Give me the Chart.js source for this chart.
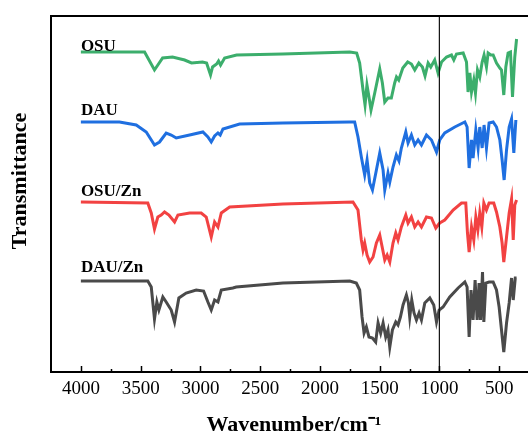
<!DOCTYPE html>
<html>
<head>
<meta charset="utf-8">
<script src="https://cdn.jsdelivr.net/npm/chart.js@4"></script>
<style>
  html, body { margin: 0; padding: 0; background: #fff; overflow: hidden; }
</style>
</head>
<body>
<canvas id="chart" width="530" height="433"></canvas>
<script>
// wavenumbers (cm-1) and offset transmittance (a.u.) for each spectrum
const osuWn = [4000, 3467, 3384, 3316, 3233, 3132, 3074, 2982, 2948, 2915, 2898, 2864, 2848, 2831, 2797, 2697, 2312, 1750, 1692, 1667, 1639, 1622, 1606, 1589, 1572, 1541, 1499, 1477, 1457, 1430, 1402, 1374, 1359, 1340, 1306, 1265, 1234, 1206, 1172, 1142, 1120, 1094, 1072, 1039, 1011, 982, 940, 899, 879, 857, 801, 773, 760, 745, 731, 712, 698, 681, 662, 642, 626, 606, 592, 570, 550, 522, 494, 480, 461, 444, 425, 405, 388, 369, 354];
const osuT = [320, 320, 302, 314, 315, 312, 309, 310, 309, 297, 305, 308, 311, 307, 314, 317, 318, 320, 319, 309, 282, 267, 287, 275, 262, 279, 303, 289, 270, 274, 274, 289, 295, 292, 304, 310, 308, 302, 309, 305, 296, 309, 305, 312, 299, 310, 315, 317, 312, 318, 319, 310, 280, 299, 280, 292, 279, 302, 295, 310, 317, 305, 319, 317, 317, 309, 304, 302, 277, 305, 319, 320, 275, 315, 333];

const dauWn = [4000, 3677, 3537, 3453, 3384, 3342, 3286, 3244, 3202, 3090, 2979, 2937, 2909, 2881, 2853, 2834, 2811, 2672, 2309, 1750, 1709, 1681, 1653, 1625, 1605, 1583, 1560, 1527, 1499, 1471, 1457, 1430, 1415, 1388, 1360, 1338, 1318, 1281, 1262, 1234, 1206, 1178, 1150, 1108, 1066, 1024, 997, 955, 871, 787, 768, 751, 731, 718, 695, 676, 662, 642, 626, 606, 584, 550, 522, 494, 475, 458, 438, 416, 396, 377, 360];
const dauT = [250, 250, 247, 240, 227, 230, 239, 237, 234, 237, 240, 235, 230, 236, 239, 237, 243, 248, 249, 250, 250, 235, 215, 197, 212, 189, 182, 202, 219, 202, 182, 199, 190, 205, 217, 211, 224, 240, 229, 237, 227, 232, 227, 237, 232, 220, 232, 239, 245, 250, 245, 204, 232, 214, 242, 224, 245, 224, 247, 224, 249, 250, 245, 232, 212, 192, 222, 245, 253, 219, 252];

const osuZnWn = [4000, 3440, 3411, 3384, 3356, 3328, 3300, 3263, 3216, 3188, 3090, 2993, 2951, 2909, 2881, 2853, 2825, 2755, 2309, 1723, 1681, 1653, 1639, 1625, 1605, 1583, 1555, 1527, 1499, 1477, 1457, 1437, 1415, 1388, 1365, 1346, 1318, 1281, 1262, 1234, 1206, 1178, 1150, 1108, 1066, 1030, 997, 955, 885, 815, 779, 765, 751, 731, 712, 695, 678, 662, 645, 628, 606, 584, 545, 522, 494, 475, 461, 438, 416, 396, 382, 369, 354];
const osuZnT = [170, 169, 159, 143, 155, 157, 160, 157, 150, 157, 159, 159, 155, 135, 150, 145, 159, 165, 168, 170, 162, 132, 122, 129, 117, 110, 115, 129, 137, 124, 112, 117, 110, 129, 139, 132, 145, 157, 149, 155, 145, 150, 145, 155, 154, 144, 149, 152, 162, 169, 169, 139, 120, 145, 132, 155, 142, 159, 145, 169, 162, 169, 169, 160, 145, 129, 110, 135, 159, 173, 132, 167, 172];

const dauZnWn = [4000, 3440, 3411, 3384, 3364, 3347, 3314, 3286, 3244, 3216, 3180, 3119, 3035, 2973, 2937, 2909, 2881, 2853, 2825, 2728, 2700, 2309, 1750, 1695, 1667, 1647, 1630, 1611, 1589, 1560, 1533, 1513, 1491, 1471, 1449, 1430, 1415, 1393, 1365, 1346, 1326, 1304, 1276, 1259, 1248, 1231, 1212, 1192, 1170, 1150, 1122, 1080, 1047, 1024, 1002, 969, 913, 843, 787, 768, 751, 735, 718, 701, 684, 668, 656, 639, 628, 611, 584, 550, 522, 500, 480, 461, 438, 416, 396, 382, 365, 354];
const dauZnT = [91, 91, 85, 53, 70, 62, 75, 70, 62, 50, 74, 79, 82, 81, 70, 62, 72, 70, 82, 84, 85, 89, 91, 89, 82, 55, 39, 45, 35, 34, 30, 49, 39, 49, 35, 42, 25, 42, 50, 47, 55, 67, 77, 69, 55, 72, 59, 52, 59, 52, 69, 74, 67, 50, 62, 65, 75, 84, 90, 85, 35, 82, 52, 92, 52, 89, 52, 100, 50, 89, 90, 90, 82, 65, 42, 20, 49, 69, 94, 72, 94, 94];

const seriesNames = ['OSU', 'DAU', 'OSU/Zn', 'DAU/Zn'];
const seriesColors = ['#3cae6c', '#1f6fe0', '#f24242', '#4a4a4a'];
const nameLevels = [321, 257, 176, 100];   // label baselines (a.u.)
const tickValues = [4000, 3500, 3000, 2500, 2000, 1500, 1000, 500];
const minorTicks = [3750, 3250, 2750, 2250, 1750, 1250, 750];
const markerWn = 1000;

const allWn = [osuWn, dauWn, osuZnWn, dauZnWn];
const allT = [osuT, dauT, osuZnT, dauZnT];

const frame = {
    id: 'frame',
    afterDatasetsDraw(chart) {
        const c = chart.ctx;
        const a = chart.chartArea;
        const x = chart.scales.x;
        const y = chart.scales.y;
        c.save();
        // marker line
        c.strokeStyle = '#111';
        c.lineWidth = 1.2;
        c.beginPath();
        c.moveTo(x.getPixelForValue(markerWn), a.top);
        c.lineTo(x.getPixelForValue(markerWn), a.bottom);
        c.stroke();
        // box
        c.strokeStyle = '#000';
        c.lineWidth = 2;
        c.beginPath();
        c.moveTo(a.right + 2, a.top);
        c.lineTo(a.left, a.top);
        c.lineTo(a.left, a.bottom);
        c.lineTo(a.right + 2, a.bottom);
        c.stroke();
        // inward ticks
        c.lineWidth = 1.5;
        tickValues.forEach(v => {
            const px = Math.round(x.getPixelForValue(v)) + 0.5;
            c.beginPath(); c.moveTo(px, a.bottom); c.lineTo(px, a.bottom - 6); c.stroke();
        });
        minorTicks.forEach(v => {
            const px = Math.round(x.getPixelForValue(v)) + 0.5;
            c.beginPath(); c.moveTo(px, a.bottom); c.lineTo(px, a.bottom - 3); c.stroke();
        });
        // tick labels
        c.fillStyle = '#000';
        c.font = '19px "Liberation Serif", "Times New Roman", serif';
        c.textAlign = 'center';
        c.textBaseline = 'middle';
        tickValues.forEach(v => c.fillText(String(v), x.getPixelForValue(v), a.bottom + 17));
        // axis titles
        c.font = 'bold 22px "Liberation Serif", "Times New Roman", serif';
        c.fillText('Wavenumber/cm\u207B\u00B9', (a.left + a.right) / 2 + 4, a.bottom + 53);
        c.save();
        c.translate(20, 181);
        c.rotate(-Math.PI / 2);
        c.font = 'bold 22px "Liberation Serif", "Times New Roman", serif';
        c.fillText('Transmittance', 0, 0);
        c.restore();
        // series names
        c.font = 'bold 17px "Liberation Serif", "Times New Roman", serif';
        c.textAlign = 'left';
        c.textBaseline = 'alphabetic';
        seriesNames.forEach((n, i) => c.fillText(n, x.getPixelForValue(4000), y.getPixelForValue(nameLevels[i])));
        c.restore();
    }
};

new Chart(document.getElementById('chart'), {
    type: 'line',
    data: {
        datasets: seriesNames.map((n, i) => ({
            label: n,
            data: allWn[i].map((w, j) => ({ x: w, y: allT[i][j] })),
            borderColor: seriesColors[i],
            borderWidth: 3,
            pointRadius: 0,
            tension: 0,
            fill: false
        }))
    },
    options: {
        responsive: false,
        animation: false,
        layout: { padding: { left: 51, top: 16, right: 1, bottom: 61 } },
        plugins: { legend: { display: false }, tooltip: { enabled: false } },
        scales: {
            x: { type: 'linear', reverse: true, min: 250, max: 4250, display: false },
            y: { min: 0, max: 356, display: false }
        }
    },
    plugins: [frame]
});
</script>
</body>
</html>
